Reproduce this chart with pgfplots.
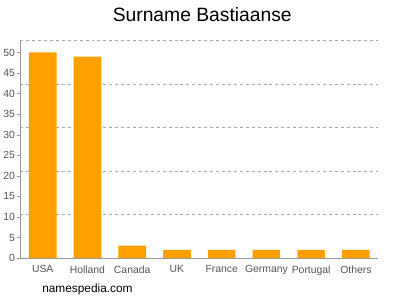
\documentclass[border=0pt]{standalone}
\usepackage{pgfplots}
\pgfplotsset{compat=1.18}
\usepackage{fontspec}
\setmainfont{Liberation Sans}
\definecolor{barorange}{HTML}{FFA000}
\definecolor{tickgray}{HTML}{555555}
\definecolor{axgray}{HTML}{999999}
\definecolor{gridgray}{HTML}{AAAAAA}
\begin{document}
\begin{tikzpicture}[x=1pt,y=1pt]
\path (0,0) rectangle (400,300);
\begin{axis}[
  at={(16pt,39pt)}, anchor=south west,
  scale only axis, width=362pt, height=220pt,
  xmin=-0.5, xmax=7.5, ymin=0, ymax=52.9,
  axis x line*=bottom, axis y line*=left,
  axis line style={axgray},
  xtick=data,
  xticklabels={USA,Holland,Canada,UK,France,Germany,Portugal,Others},
  ytick={0,5,...,50},
  major x tick style={draw=none},
  y tick style={axgray},
  tick align=outside,
  major tick length=3pt,
  tick label style={font=\fontsize{10.5}{12}\selectfont, text=tickgray},
  /pgf/number format/assume math mode=true,
  xticklabel style={yshift=-1pt},
  yticklabel style={xshift=1pt},
  extra y ticks={10.58,21.16,31.74,42.32,52.9},
  extra y tick labels={},
  extra y tick style={grid=major, major grid style={gridgray, dashed, line width=0.6pt}, major tick length=0pt},
  ybar, bar width=28pt,
  enlarge x limits=false,
]
\addplot[fill=barorange, draw=none] coordinates {(0,50) (1,49) (2,3) (3,2) (4,2) (5,2) (6,2) (7,2)};
\end{axis}
\node[font=\fontsize{19.5}{22}\selectfont] at (200,285) {Surname Bastiaanse};
\node[font=\fontsize{12}{14}\selectfont, anchor=base west, inner sep=0pt] at (38,4) {namespedia.com};
\end{tikzpicture}
\end{document}
